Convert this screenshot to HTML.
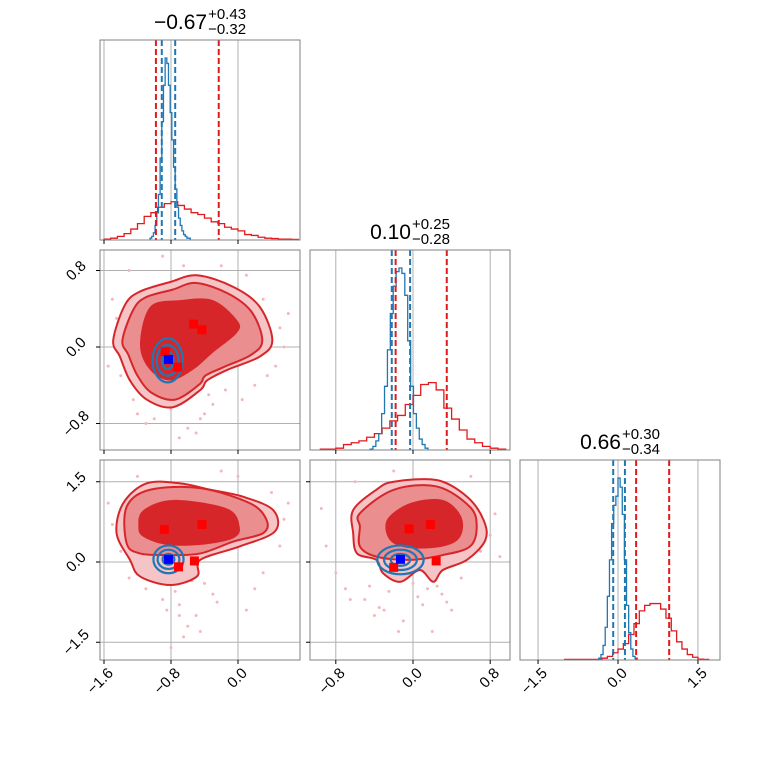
<!DOCTYPE html>
<html><head><meta charset="utf-8"><style>
body{margin:0;background:#fff;}
svg text{font-family:"Liberation Sans",sans-serif;fill:#000;}
</style></head><body>
<svg id="c" width="760" height="760" xmlns="http://www.w3.org/2000/svg"></svg>
<script>
// ---------- data ----------
const h0BlueCenters=[-1.04,-1.02,-1.00,-0.98,-0.96,-0.94,-0.92,-0.90,-0.88,-0.86,-0.84,-0.82,-0.80,-0.78,-0.76,-0.74,-0.72,-0.70,-0.68,-0.66,-0.64,-0.62,-0.60,-0.58];
const h0BlueCounts=[1,2,4,8,15,25,45,65,85,100,97,85,70,55,40,28,18,12,8,5,3,2,1,1];
const h0RedCenters=[-1.56,-1.48,-1.40,-1.32,-1.24,-1.16,-1.08,-1.00,-0.92,-0.84,-0.76,-0.68,-0.60,-0.52,-0.44,-0.36,-0.28,-0.20,-0.12,-0.04,0.04,0.12,0.20,0.28,0.36,0.44,0.52,0.60,0.68];
const h0RedCounts=[0.5,1,2,3.5,6,9,13,15,18,20,21,19,17,15,14,12,10,9,7,6,5,3,2.5,1.5,1,0.8,0.5,0.5,0.3];
const h1BlueCenters=[-0.43,-0.40,-0.37,-0.34,-0.31,-0.28,-0.25,-0.22,-0.19,-0.16,-0.13,-0.10,-0.07,-0.04,-0.01,0.02,0.05,0.08,0.11,0.14];
const h1BlueCounts=[0.5,2,5,9,20,35,55,75,90,98,100,97,85,60,35,20,12,6,3,1];
const h1RedCenters=[-0.92,-0.84,-0.76,-0.68,-0.60,-0.52,-0.44,-0.36,-0.28,-0.20,-0.12,-0.04,0.04,0.12,0.20,0.28,0.36,0.44,0.52,0.60,0.68,0.76,0.84,0.92];
const h1RedCounts=[0.5,0.5,1,3,4,5,7,9,12,16,19,25,30,36,37,33,23,17,11,6,4,2,1,0.5];
const h2BlueCenters=[-0.34,-0.30,-0.26,-0.22,-0.18,-0.14,-0.10,-0.06,-0.02,0.02,0.06,0.10,0.14,0.18,0.22,0.26,0.30,0.34];
const h2BlueCounts=[1,3,8,18,35,55,75,85,90,100,95,80,55,30,15,6,2,1];
const h2RedCenters=[-0.95,-0.85,-0.75,-0.65,-0.55,-0.45,-0.35,-0.25,-0.15,-0.05,0.05,0.15,0.25,0.35,0.45,0.55,0.65,0.75,0.85,0.95,1.05,1.15,1.25,1.35,1.45,1.55,1.65];
const h2RedCounts=[0.3,0.3,0.3,0.3,0.3,0.3,0.3,1,2,4,6,9,14,20,27,30,31,31,28,23,16,10,6,3,1.5,0.5,0.3];
const q0Blue=[-0.91,-0.75], q0Red=[-0.98,-0.23];
const q1Blue=[-0.22,-0.03], q1Red=[-0.18,0.35];
const q2Blue=[-0.09,0.13], q2Red=[0.34,0.96];
const c10OuterX=[-1.49,-1.35,-1.17,-0.81,-0.49,-0.06,0.26,0.41,0.26,-0.13,-0.37,-0.45,-0.78,-1.09,-1.29,-1.41];
const c10OuterY=[0.07,0.44,0.58,0.68,0.75,0.63,0.42,0.07,-0.10,-0.24,-0.35,-0.45,-0.63,-0.55,-0.35,-0.10];
const c10MidX=[-1.38,-1.25,-1.10,-0.78,-0.50,-0.12,0.16,0.29,0.16,-0.17,-0.39,-0.46,-0.75,-1.03,-1.20,-1.31];
const c10MidY=[0.07,0.39,0.52,0.60,0.67,0.56,0.37,0.07,-0.08,-0.21,-0.30,-0.39,-0.55,-0.48,-0.30,-0.08];
const c10InnerX=[-1.17,-1.05,-0.69,-0.30,-0.01,-0.01,-0.30,-0.54,-0.81,-1.05];
const c10InnerY=[0.02,0.42,0.49,0.49,0.28,0.15,-0.06,-0.24,-0.35,-0.24];
const c20OuterX=[-1.37,-1.09,-0.69,-0.33,0.06,0.42,0.44,0.02,-0.45,-0.49,-0.81,-1.17,-1.29,-1.45];
const c20OuterY=[1.10,1.47,1.47,1.35,1.22,0.97,0.57,0.29,0.04,-0.27,-0.43,-0.27,0.04,0.54];
const c20MidX=[-1.33,-1.05,-0.45,0.14,0.34,0.30,-0.06,-0.45,-0.85,-1.17,-1.33];
const c20MidY=[1.03,1.35,1.38,1.10,0.79,0.54,0.38,0.16,0.13,0.16,0.35];
const c20InnerX=[-1.13,-0.77,-0.13,0.02,-0.06,-0.45,-0.85,-1.13,-1.19];
const c20InnerY=[0.97,1.16,1.00,0.66,0.44,0.32,0.32,0.47,0.66];
const c21OuterX=[-0.62,-0.38,-0.20,0.25,0.56,0.73,0.75,0.56,0.31,0.21,0.07,-0.13,-0.31,-0.38,-0.58,-0.62];
const c21OuterY=[0.97,1.35,1.50,1.53,1.22,0.79,0.41,0.04,-0.15,-0.37,-0.15,-0.37,-0.21,0.04,0.16,0.54];
const c21MidX=[-0.55,-0.20,0.25,0.59,0.66,0.59,0.31,-0.03,-0.38,-0.55,-0.55];
const c21MidY=[0.91,1.35,1.41,1.03,0.66,0.29,0.13,0.04,0.10,0.29,0.66];
const c21InnerX=[-0.27,-0.03,0.31,0.50,0.49,0.31,-0.03,-0.24];
const c21InnerY=[0.79,1.10,1.16,0.85,0.47,0.29,0.26,0.41];
const v0Red=[-0.53,-0.43,-0.87,-0.72], v1Red=[0.24,0.18,-0.05,-0.21];
const v0RedB=[-0.88,-0.43,-0.71,-0.52], v2Red=[0.61,0.70,-0.09,0.02];
const v1RedB=[-0.04,0.18,-0.20,0.24], v2RedB=[0.62,0.70,-0.10,0.02];
const blueMed=[-0.83,-0.13,0.05];
const s10X=[-1.5,-1.3,-1.2,-0.6,-0.4,0.3,0.5,0.45,0.2,-0.3,-0.5,-0.7,-1.1,-1.4,0.6,-0.9,-0.2,0.1,-1.55,-0.45,-1.0,-0.8,-0.35,0.35,0.55,-1.45,-1.25,-0.65,-0.15,0.05];
const s10Y=[0.5,0.8,-0.7,-0.85,-0.7,0.5,0.2,-0.2,-0.4,-0.6,-0.9,-0.95,-0.8,-0.3,0.35,0.95,0.85,0.75,-0.2,-0.75,-0.75,-0.65,-0.5,-0.3,0.0,0.3,-0.55,0.85,-0.45,-0.55];
const s20X=[-1.5,-1.3,-1.1,-0.9,-0.7,-0.5,-0.3,0.1,0.4,0.6,0.55,-0.6,-0.8,-0.4,-1.55,0.0,-0.2,-0.75,-0.65,-1.2,-0.85,-0.55,-0.95,-0.25,0.2,0.5,-1.4,-0.7,-0.45,0.3];
const s20Y=[0.7,-0.3,-0.5,-0.7,-0.8,-1.0,-0.6,-0.9,1.3,1.1,0.8,-1.2,-1.6,-0.4,1.1,1.6,1.7,-0.55,-1.4,1.6,-0.9,-0.35,-0.4,-0.75,-0.5,0.3,0.2,-1.0,-1.3,-0.2];
const s21X=[-0.9,-0.7,-0.5,-0.3,-0.1,0.1,0.3,0.5,0.7,0.85,-0.95,-0.6,-0.2,0.0,0.4,0.8,-0.4,0.2,-0.8,0.6,-0.45,-0.25,0.05,0.25,-0.65,-0.15,0.15,-0.35,0.35,0.9];
const s21Y=[0.3,-0.5,-0.7,-0.9,-1.1,-0.8,-0.6,-0.3,0.2,0.9,1.0,1.5,1.7,-0.4,-0.9,0.5,-1.0,-1.3,-0.2,1.6,-0.45,-0.55,-0.65,-0.45,-0.7,-1.3,-0.5,-0.85,-0.75,0.1];

// ---------- helpers ----------
const svg=document.getElementById('c');
const NS='http://www.w3.org/2000/svg';
function el(tag,attrs,parent){const e=document.createElementNS(NS,tag);for(const k in attrs)e.setAttribute(k,attrs[k]);(parent||svg).appendChild(e);return e;}
const RED='#e31a1c', BLUE='#1f77b4';
const ax0=v=>238+v*83.75;
const ax1=v=>413+v*96.5;
const ax2=v=>618+v*53.3;
const ay1=v=>347-v*95.6;
const ay2=v=>562-v*53.5;
const panels={p00:[100,40],p10:[100,250],p11:[310,250],p20:[100,460],p21:[310,460],p22:[520,460]};
function clip(id,x,y){const d=el('clipPath',{id:id});el('rect',{x:x,y:y,width:200,height:200},d);}
for(const k in panels)clip('cl'+k,panels[k][0],panels[k][1]);
function grid(px,py,xs,ys,fx,fy,name){
  const g=el('g',{});
  
  xs.forEach(v=>el('line',{x1:fx(v),x2:fx(v),y1:py,y2:py+200,stroke:'#b0b0b0','stroke-width':1},g));
  ys.forEach(v=>el('line',{x1:px,x2:px+200,y1:fy(v),y2:fy(v),stroke:'#b0b0b0','stroke-width':1},g));
}
function frame(px,py,xs,fx,ys,fy,name){
  const f=el('rect',{x:px,y:py,width:200,height:200,fill:'none',stroke:'#808080','stroke-width':1});
  
  xs.forEach(v=>el('line',{x1:fx(v),x2:fx(v),y1:py+200,y2:py+204,stroke:'#000','stroke-width':1}));
  if(ys)ys.forEach(v=>el('line',{x1:px-4,x2:px,y1:fy(v),y2:fy(v),stroke:'#000','stroke-width':1}));
}
function hist(centers,counts,fx,bottom,color,name,cl){
  const w=centers[1]-centers[0];let d='';
  centers.forEach((c,i)=>{const x0=fx(c-w/2),x1=fx(c+w/2),y=bottom-counts[i]*1.82;
    d+=(i===0?'M'+x0+','+bottom+'L'+x0+','+y:'L'+x0+','+y)+'L'+x1+','+y;});
  d+='L'+fx(centers[centers.length-1]+w/2)+','+bottom;
  const p=el('path',{d:d,fill:'none',stroke:color,'stroke-width':1.3,'clip-path':'url(#'+cl+')'});
  
}
function qlines(vals,fx,py,color,name){
  vals.forEach(v=>{const l=el('line',{x1:fx(v),x2:fx(v),y1:py,y2:py+200,stroke:color,'stroke-width':2,'stroke-dasharray':'6,3'});
    });
}
function smooth(xs,ys,fx,fy){
  const P=xs.map((x,i)=>[fx(x),fy(ys[i])]);const n=P.length;let d='M'+P[0][0]+','+P[0][1];
  for(let i=0;i<n;i++){const p0=P[(i-1+n)%n],p1=P[i],p2=P[(i+1)%n],p3=P[(i+2)%n];
    const c1=[p1[0]+(p2[0]-p0[0])/6,p1[1]+(p2[1]-p0[1])/6],c2=[p2[0]-(p3[0]-p1[0])/6,p2[1]-(p3[1]-p1[1])/6];
    d+='C'+c1+' '+c2+' '+p2;}
  return d+'Z';
}
function contours(set,fx,fy,name,cl){
  const g=el('g',{'clip-path':'url(#'+cl+')'});
  
  el('path',{d:smooth(set[0],set[1],fx,fy),fill:'#f5c4c6',stroke:'none'},g);
  el('path',{d:smooth(set[2],set[3],fx,fy),fill:'#ea8e90',stroke:'none'},g);
  el('path',{d:smooth(set[4],set[5],fx,fy),fill:'#d7262a',stroke:'none'},g);
  el('path',{d:smooth(set[0],set[1],fx,fy),fill:'none',stroke:'#d7262a','stroke-width':2},g);
  el('path',{d:smooth(set[2],set[3],fx,fy),fill:'none',stroke:'#d7262a','stroke-width':2},g);
}
function dots(xs,ys,fx,fy,name,cl){
  const g=el('g',{'clip-path':'url(#'+cl+')'});
  
  xs.forEach((x,i)=>el('circle',{cx:fx(x),cy:fy(ys[i]),r:1.5,fill:'#f2b8bb'},g));
}
function blueEll(cx,cy,rxs,rys,fx,fy,name){
  const g=el('g',{});
  
  rxs.forEach((rx,i)=>el('ellipse',{cx:fx(cx),cy:fy(cy),rx:Math.abs(fx(cx+rx)-fx(cx)),ry:Math.abs(fy(cy+rys[i])-fy(cy)),fill:'none',stroke:BLUE,'stroke-width':2.2},g));
}
function markers(xs,ys,fx,fy,color,name){
  xs.forEach((x,i)=>{const r=el('rect',{x:fx(x)-4.5,y:fy(ys[i])-4.5,width:9,height:9,fill:color});
    });
}
function title(cx,y,main,sup,sub,name){
  const t=el('text',{x:0,y:y,'font-size':21});
  
  t.textContent=main;
  const mw=t.getComputedTextLength()||main.length*11;
  const a=el('text',{x:0,y:y-10,'font-size':15});a.textContent=sup;
  const b=el('text',{x:0,y:y+5,'font-size':15});b.textContent=sub;
  const sw=Math.max(a.getComputedTextLength()||40,b.getComputedTextLength()||40);
  const start=cx-(mw+1+sw)/2;
  t.setAttribute('x',start);a.setAttribute('x',start+mw+1);b.setAttribute('x',start+mw+1);
}
function xlabels(vals,labels,fx,y,name){
  vals.forEach((v,i)=>{const x=fx(v)+10,yy=y+6;const t=el('text',{x:x,y:yy,'font-size':15,'text-anchor':'end',transform:'rotate(-45 '+x+' '+yy+')'});
    t.textContent=labels[i];});
}
function ylabels(vals,labels,fy,x,name){
  vals.forEach((v,i)=>{const y=fy(v);const t=el('text',{x:x,y:y+5,'font-size':15,'text-anchor':'middle',transform:'rotate(-45 '+x+' '+y+')'});
    t.textContent=labels[i];});
}
const t0=[-1.6,-0.8,0.0], t0L=['\u22121.6','\u22120.8','0.0'];
const t1=[-0.8,0.0,0.8], t1L=['\u22120.8','0.0','0.8'];
const t2=[-1.5,0.0,1.5], t2L=['\u22121.5','0.0','1.5'];

// ---------- panel 0,0 ----------
grid(100,40,t0,[],ax0,null,'hist-var0');
hist(h0RedCenters,h0RedCounts,ax0,240,RED,'hist-var0-red','clp00');
hist(h0BlueCenters,h0BlueCounts,ax0,240,BLUE,'hist-var0-blue','clp00');
qlines(q0Red,ax0,40,RED,'quantile-var0-red');qlines(q0Blue,ax0,40,BLUE,'quantile-var0-blue');
frame(100,40,t0,ax0,null,null,'hist-var0');
title(200,29,'\u22120.67','+0.43','\u22120.32','title-var0');

// ---------- panel 1,0 ----------
grid(100,250,t0,t1,ax0,ay1,'scatter-var0-var1');
dots(s10X,s10Y,ax0,ay1,'var0-var1','clp10');
contours([c10OuterX,c10OuterY,c10MidX,c10MidY,c10InnerX,c10InnerY],ax0,ay1,'var0-var1','clp10');
blueEll(-0.84,-0.14,[0.18,0.13,0.07],[0.23,0.16,0.09],ax0,ay1,'var0-var1');
markers(v0Red,v1Red,ax0,ay1,'#ff0000','marker-red-var0-var1');
markers([blueMed[0]],[blueMed[1]],ax0,ay1,'#0000ff','marker-blue-var0-var1');
frame(100,250,t0,ax0,t1,ay1,'scatter-var0-var1');
ylabels(t1,t1L,ay1,76,'y-tick-label-var1');

// ---------- panel 1,1 ----------
grid(310,250,t1,[],ax1,null,'hist-var1');
hist(h1RedCenters,h1RedCounts,ax1,450,RED,'hist-var1-red','clp11');
hist(h1BlueCenters,h1BlueCounts,ax1,450,BLUE,'hist-var1-blue','clp11');
qlines(q1Red,ax1,250,RED,'quantile-var1-red');qlines(q1Blue,ax1,250,BLUE,'quantile-var1-blue');
frame(310,250,t1,ax1,null,null,'hist-var1');
title(410,239,'0.10','+0.25','\u22120.28','title-var1');

// ---------- panel 2,0 ----------
grid(100,460,t0,t2,ax0,ay2,'scatter-var0-var2');
dots(s20X,s20Y,ax0,ay2,'var0-var2','clp20');
contours([c20OuterX,c20OuterY,c20MidX,c20MidY,c20InnerX,c20InnerY],ax0,ay2,'var0-var2','clp20');
blueEll(-0.83,0.05,[0.18,0.13,0.07],[0.26,0.18,0.1],ax0,ay2,'var0-var2');
markers(v0RedB,v2Red,ax0,ay2,'#ff0000','marker-red-var0-var2');
markers([blueMed[0]],[blueMed[2]],ax0,ay2,'#0000ff','marker-blue-var0-var2');
frame(100,460,t0,ax0,t2,ay2,'scatter-var0-var2');
ylabels(t2,t2L,ay2,76,'y-tick-label-var2');
xlabels(t0,t0L,ax0,668,'x-tick-label-var0');

// ---------- panel 2,1 ----------
grid(310,460,t1,t2,ax1,ay2,'scatter-var1-var2');
dots(s21X,s21Y,ax1,ay2,'var1-var2','clp21');
contours([c21OuterX,c21OuterY,c21MidX,c21MidY,c21InnerX,c21InnerY],ax1,ay2,'var1-var2','clp21');
blueEll(-0.13,0.04,[0.24,0.17,0.1],[0.27,0.19,0.11],ax1,ay2,'var1-var2');
markers(v1RedB,v2RedB,ax1,ay2,'#ff0000','marker-red-var1-var2');
markers([blueMed[1]],[blueMed[2]],ax1,ay2,'#0000ff','marker-blue-var1-var2');
frame(310,460,t1,ax1,t2,ay2,'scatter-var1-var2');
xlabels(t1,t1L,ax1,668,'x-tick-label-var1');

// ---------- panel 2,2 ----------
grid(520,460,t2,[],ax2,null,'hist-var2');
hist(h2RedCenters,h2RedCounts,ax2,660,RED,'hist-var2-red','clp22');
hist(h2BlueCenters,h2BlueCounts,ax2,660,BLUE,'hist-var2-blue','clp22');
qlines(q2Red,ax2,460,RED,'quantile-var2-red');qlines(q2Blue,ax2,460,BLUE,'quantile-var2-blue');
frame(520,460,t2,ax2,null,null,'hist-var2');
title(620,449,'0.66','+0.30','\u22120.34','title-var2');
xlabels(t2,t2L,ax2,668,'x-tick-label-var2');
</script>
</body></html>
